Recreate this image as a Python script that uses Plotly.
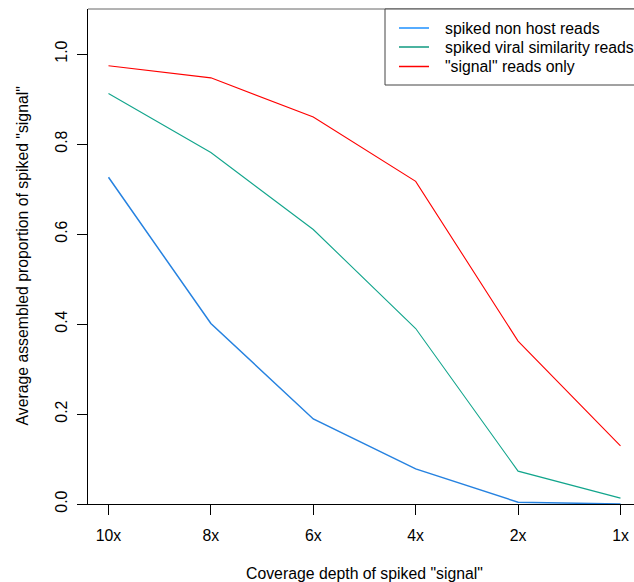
import plotly.graph_objects as go

# Coverage depth categories and mean assembled proportion per spiking scheme
depths = ["10x", "8x", "6x", "4x", "2x", "1x"]
non_host = [0.726, 0.401, 0.189, 0.078, 0.004, 0.000]
viral_similarity = [0.912, 0.781, 0.610, 0.390, 0.073, 0.013]
signal_only = [0.974, 0.947, 0.860, 0.717, 0.362, 0.129]

series_names = ["spiked non host reads", "spiked viral similarity reads", '"signal" reads only']
series_colors = ["#2682E0", "#12A58C", "#FF0000"]
legend_colors = ["#1E90FF", "#0F9A80", "#FF0000"]
y_ticks = [0.0, 0.2, 0.4, 0.6, 0.8, 1.0]

FONT = "Liberation Sans, Arial, Helvetica, sans-serif"
FS = 15.8
W, H = 634, 582
L, R, T, B = 88, 0, 9, 78
plot_w = W - L - R
plot_h = H - T - B


def px_x(px):
    """Horizontal pixel position -> paper coordinate."""
    return (px - L) / plot_w


def px_y(py):
    """Vertical pixel position -> paper coordinate."""
    return (H - B - py) / plot_h


fig = go.Figure()
for name, vals, col, w in zip(series_names, [non_host, viral_similarity, signal_only],
                              series_colors, [1.5, 1.1, 1.1]):
    fig.add_trace(go.Scatter(
        x=depths, y=vals, mode="lines", name=name, showlegend=False,
        line=dict(color=col, width=w),
    ))

# Boxed key in the top right corner
shapes = [
    dict(type="line", xref="paper", yref="paper", x0=0, x1=1, y0=1, y1=1,
         line=dict(color="#666666", width=1)),
    dict(type="rect", xref="paper", yref="paper",
         x0=px_x(385), x1=px_x(660), y0=px_y(85), y1=px_y(9),
         fillcolor="white", line=dict(color="#444444", width=1), layer="above"),
]
annotations = []
key_rows = [28, 47, 66.5]
for name, col, row in zip(series_names, legend_colors, key_rows):
    shapes.append(dict(type="line", xref="paper", yref="paper",
                       x0=px_x(399), x1=px_x(429), y0=px_y(row), y1=px_y(row),
                       line=dict(color=col, width=1.5), layer="above"))
    annotations.append(dict(text=name, xref="paper", yref="paper",
                            x=px_x(443), y=px_y(row), xanchor="left", yanchor="middle",
                            showarrow=False, font=dict(size=FS)))

annotations += [
    dict(text='Coverage depth of spiked "signal"', xref="paper", yref="paper",
         x=px_x(364), y=0, yshift=-(573 - 504), xanchor="center", yanchor="middle",
         showarrow=False, font=dict(size=FS)),
    dict(text='Average assembled proportion of spiked "signal"', xref="paper", yref="paper",
         x=0, xshift=-(L - 22), y=0.5, xanchor="center", yanchor="middle",
         textangle=-90, showarrow=False, font=dict(size=FS)),
]

fig.update_layout(
    width=W, height=H,
    margin=dict(l=L, r=R, t=T, b=B),
    paper_bgcolor="white", plot_bgcolor="white",
    font=dict(family=FONT, size=FS, color="black"),
    xaxis=dict(
        type="category", range=[-0.2, 5.132],
        showgrid=False, zeroline=False,
        showline=True, linecolor="black", linewidth=1,
        ticks="outside", ticklen=10, tickwidth=1, tickcolor="black",
        ticklabelstandoff=7,
    ),
    yaxis=dict(
        range=[0, 1.1], tickvals=y_ticks, tickformat=".1f",
        showgrid=False, zeroline=False,
        showline=True, linecolor="black", linewidth=1,
        ticks="outside", ticklen=10, tickwidth=1, tickcolor="black",
        tickangle=-90, ticklabelstandoff=4,
    ),
    shapes=shapes,
    annotations=annotations,
)

fig.write_html("out.html")
